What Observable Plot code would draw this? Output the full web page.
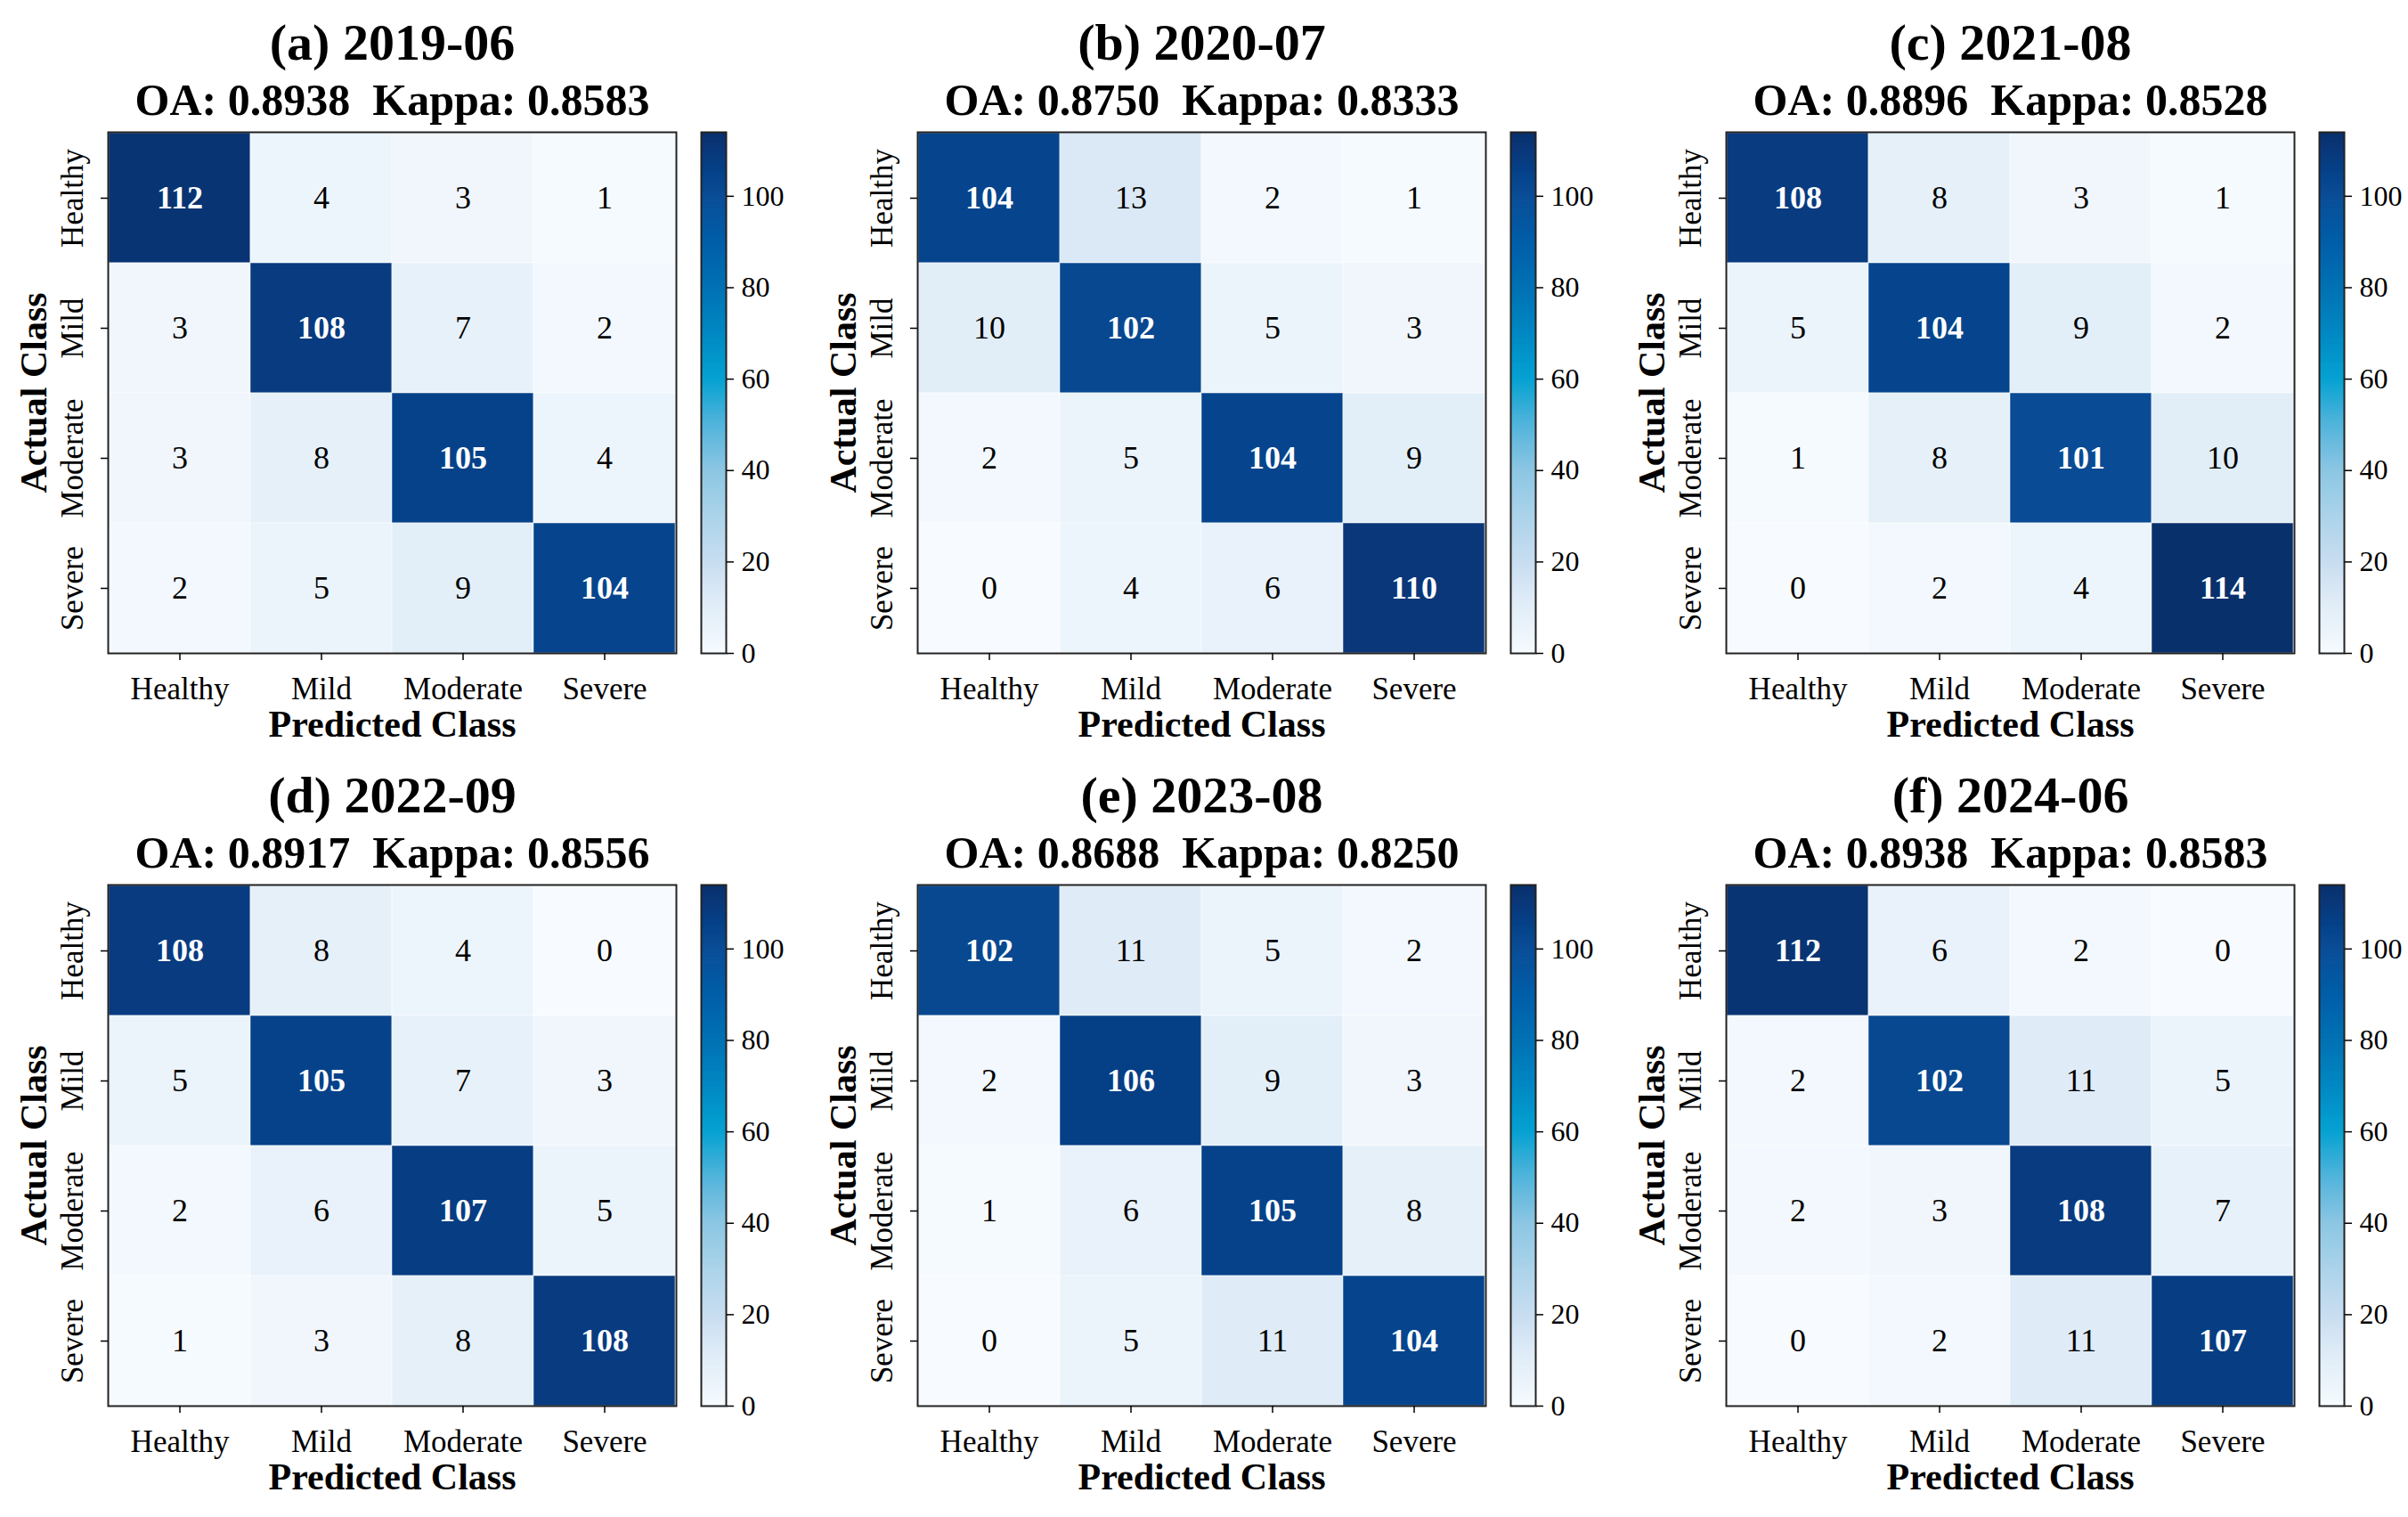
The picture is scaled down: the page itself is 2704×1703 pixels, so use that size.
<!DOCTYPE html>
<html>
<head>
<meta charset="utf-8">
<script src="https://cdn.jsdelivr.net/npm/d3@7"></script>
<script src="https://cdn.jsdelivr.net/npm/@observablehq/plot@0.6"></script>
<style>
  html, body { margin: 0; padding: 0; background: white; }
  #chart { position: relative; width: 2704px; height: 1703px; background: white; overflow: hidden; }
</style>
</head>
<body>
<div id="chart"></div>
<script>
// ---------------- data ----------------
const classes = ["Healthy", "Mild", "Moderate", "Severe"];
const panelTitles = ["(a) 2019-06", "(b) 2020-07", "(c) 2021-08", "(d) 2022-09", "(e) 2023-08", "(f) 2024-06"];
const oaValues = ["0.8938", "0.8750", "0.8896", "0.8917", "0.8688", "0.8938"];
const kappaValues = ["0.8583", "0.8333", "0.8528", "0.8556", "0.8250", "0.8583"];

const matrixA = [[112, 4, 3, 1], [3, 108, 7, 2], [3, 8, 105, 4], [2, 5, 9, 104]];
const matrixB = [[104, 13, 2, 1], [10, 102, 5, 3], [2, 5, 104, 9], [0, 4, 6, 110]];
const matrixC = [[108, 8, 3, 1], [5, 104, 9, 2], [1, 8, 101, 10], [0, 2, 4, 114]];
const matrixD = [[108, 8, 4, 0], [5, 105, 7, 3], [2, 6, 107, 5], [1, 3, 8, 108]];
const matrixE = [[102, 11, 5, 2], [2, 106, 9, 3], [1, 6, 105, 8], [0, 5, 11, 104]];
const matrixF = [[112, 6, 2, 0], [2, 102, 11, 5], [2, 3, 108, 7], [0, 2, 11, 107]];

const colorbarTicks = [0, 20, 40, 60, 80, 100];
const colorMax = 114;

// ---------------- style ----------------
const stopValues = [0, 2, 5, 9, 11, 13, 20, 30, 40, 50, 60, 70, 80, 90, 100, 102, 104, 106, 110, 114];
const stopColors = ["#f7fbff", "#f2f8fd", "#ebf3fb", "#e3eff8", "#dfecf7", "#dbe9f6", "#c8ddf0", "#abd3ea",
  "#8cc6e3", "#52b4db", "#05a2d2", "#0088c3", "#0071b4", "#005ea8", "#0a4d97", "#084890", "#06458d",
  "#053f86", "#0a377a", "#08306b"];
const colorScale = {type: "linear", domain: stopValues, range: stopColors, interpolate: "rgb", clamp: true};

const FONT = "'Liberation Serif', 'Times New Roman', serif";
const cellW = 638, cellH = 585;
const colLefts = [121, 1030, 1938];
const rowTops = [148, 993];
const cbOffset = 666, cbWidth = 28;
const whiteThreshold = 57;

const matrices = [matrixA, matrixB, matrixC, matrixD, matrixE, matrixF];
const chart = document.getElementById("chart");

matrices.forEach((m, i) => {
  const left = colLefts[i % 3];
  const top = rowTops[Math.floor(i / 3)];
  const cells = [];
  m.forEach((row, r) => row.forEach((v, c) => cells.push({actual: classes[r], pred: classes[c], value: v})));

  const mL = 121, mT = 148, mR = 10, mB = 110;
  const centered = {textAnchor: "middle", lineAnchor: "middle"};
  const panel = Plot.plot({
    width: mL + cellW + mR,
    height: mT + cellH + mB,
    marginLeft: mL, marginTop: mT, marginRight: mR, marginBottom: mB,
    style: {fontFamily: FONT, background: "transparent", color: "black", overflow: "visible"},
    x: {domain: classes, padding: 0, axis: null},
    y: {domain: classes, padding: 0, axis: null},
    color: colorScale,
    marks: [
      Plot.cell(cells, {x: "pred", y: "actual", fill: "value", inset: 0, stroke: "white", strokeWidth: 1, strokeOpacity: 0.5}),
      Plot.frame({stroke: "#222", strokeWidth: 2}),
      Plot.text(cells, {
        filter: d => d.value > whiteThreshold,
        x: "pred", y: "actual", text: d => String(d.value),
        fill: "white", fontWeight: "bold", fontSize: 36, ...centered
      }),
      Plot.text(cells, {
        filter: d => d.value <= whiteThreshold,
        x: "pred", y: "actual", text: d => String(d.value),
        fill: "black", fontSize: 36, ...centered
      }),
      Plot.axisX({tickSize: 8, tickPadding: 19, fontSize: 35, label: null, strokeWidth: 1.5}),
      Plot.axisY({tickSize: 8, tickFormat: () => "", label: null, strokeWidth: 1.5}),
      Plot.text(classes, {y: d => d, text: d => d, frameAnchor: "left", rotate: -90, dx: -40, fontSize: 35, ...centered}),
      Plot.text(["Actual Class"], {frameAnchor: "left", rotate: -90, dx: -83, fontSize: 42, fontWeight: "bold", text: d => d, ...centered}),
      Plot.text(["Predicted Class"], {frameAnchor: "bottom", dy: 80, fontSize: 42, fontWeight: "bold", text: d => d, ...centered}),
      Plot.text([panelTitles[i]], {frameAnchor: "top", dy: -100, fontSize: 58, fontWeight: "bold", text: d => d, ...centered}),
      Plot.text([`OA: ${oaValues[i]}  Kappa: ${kappaValues[i]}`], {frameAnchor: "top", dy: -36, fontSize: 50, fontWeight: "bold", text: d => d, ...centered, style: "white-space: pre"})
    ]
  });
  panel.style.position = "absolute";
  panel.style.left = (left - mL) + "px";
  panel.style.top = (top - mT) + "px";
  chart.appendChild(panel);

  const steps = d3.range(0, colorMax, 0.5);
  const cbT = 10, cbB = 10, cbL = 2, cbR = 80;
  const cb = Plot.plot({
    width: cbL + cbWidth + cbR,
    height: cbT + cellH + cbB,
    marginTop: cbT, marginBottom: cbB, marginLeft: cbL, marginRight: cbR,
    style: {fontFamily: FONT, background: "transparent", color: "black", overflow: "visible"},
    y: {domain: [0, colorMax], axis: null},
    color: colorScale,
    marks: [
      Plot.rect(steps, {y1: d => d, y2: d => Math.min(colorMax, d + 0.7), fill: d => d + 0.25}),
      Plot.frame({stroke: "#222", strokeWidth: 2}),
      Plot.axisY(colorbarTicks, {anchor: "right", tickSize: 8, tickPadding: 9, fontSize: 32, label: null, strokeWidth: 1.5})
    ]
  });
  cb.style.position = "absolute";
  cb.style.left = (left + cbOffset - cbL) + "px";
  cb.style.top = (top - cbT) + "px";
  chart.appendChild(cb);
});
</script>
</body>
</html>
